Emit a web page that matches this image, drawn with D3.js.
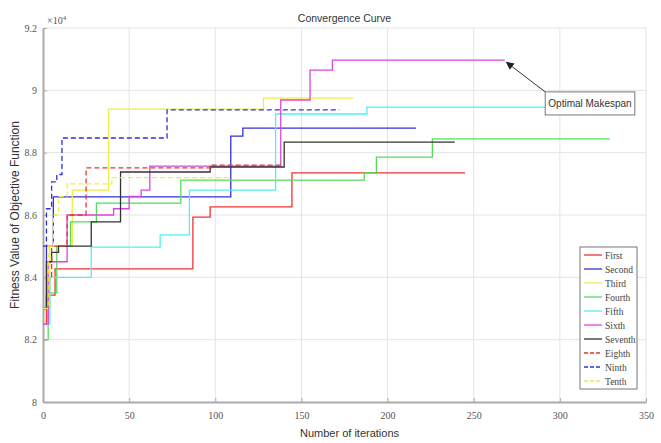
<!DOCTYPE html>
<html>
<head>
<meta charset="utf-8">
<script src="https://cdn.jsdelivr.net/npm/d3@7"></script>
<style>
  body { margin: 0; background: #fff; }
  .tick text { font-family: "Liberation Serif", "Times New Roman", serif; font-size: 10px; fill: #555; }
  .grid line { stroke: #e4e4e4; }
  .axis path, .axis line { stroke: #aaa; }
</style>
</head>
<body>
<svg id="chart"></svg>
<script>
// values in units of 10^4, iterations on x; last point marks where the run ends
const seriesNames = ['First', 'Second', 'Third', 'Fourth', 'Fifth', 'Sixth', 'Seventh', 'Eighth', 'Ninth', 'Tenth'];

const first = [[0, 8.25], [2, 8.343], [7, 8.427], [87, 8.593], [97, 8.626], [144.5, 8.735], [245, 8.735]];
const second = [[0, 8.3], [2, 8.5], [6, 8.658], [109, 8.853], [116, 8.879], [216.5, 8.879]];
const third = [[0, 8.3], [4, 8.5], [17, 8.68], [38, 8.94], [128, 8.975], [180, 8.975]];
const fourth = [[0, 8.2], [3, 8.35], [8, 8.5], [16, 8.578], [31, 8.638], [80, 8.712], [186.5, 8.735], [193.5, 8.786], [226, 8.844], [329, 8.844]];
const fifth = [[0, 8.25], [4, 8.4], [28, 8.497], [68, 8.536], [85, 8.68], [135, 8.924], [188, 8.946], [325, 8.946]];
const sixth = [[0, 8.25], [3, 8.45], [14, 8.6], [41, 8.62], [50, 8.66], [57, 8.68], [62, 8.757], [138, 8.969], [155, 9.065], [168, 9.097], [268, 9.097]];
const seventh = [[0, 8.3], [2, 8.45], [5, 8.48], [9, 8.5], [28, 8.578], [45, 8.738], [97, 8.754], [140, 8.834], [239, 8.834]];
const eighth = [[0, 8.3], [3, 8.4], [5, 8.5], [14, 8.6], [25, 8.751], [97.6, 8.76], [138, 8.76]];
const ninth = [[0, 8.5], [2, 8.62], [5, 8.706], [8, 8.73], [11, 8.847], [72, 8.937], [172, 8.937]];
const tenth = [[0, 8.3], [3, 8.5], [6, 8.6], [9, 8.66], [14, 8.7], [40, 8.72], [110, 8.72]];

const allSeries = [first, second, third, fourth, fifth, sixth, seventh, eighth, ninth, tenth];
const colors = ['#ee3333', '#3030dd', '#eeee44', '#55dd55', '#55eeee', '#dd44dd', '#333333', '#ee3333', '#3030dd', '#eeee44'];
const dashes = [null, null, null, null, null, null, null, '5,3', '5,3', '5,3'];

const xTicks = [0, 50, 100, 150, 200, 250, 300, 350];
const yTicks = [8, 8.2, 8.4, 8.6, 8.8, 9, 9.2];

const width = 661, height = 443;
const margin = { top: 28, right: 15, bottom: 41, left: 43 };
const w = width - margin.left - margin.right;
const h = height - margin.top - margin.bottom;

const svg = d3.select('#chart').attr('width', width).attr('height', height);
const chart = svg.append('g').attr('transform', `translate(${margin.left},${margin.top})`);

const xScale = d3.scaleLinear().domain([0, 350]).range([0, w]);
const yScale = d3.scaleLinear().domain([8, 9.2]).range([h, 0]);

// grid
chart.append('g').attr('class', 'grid')
  .selectAll('line.v').data(xTicks.slice(1)).join('line')
  .attr('x1', d => xScale(d)).attr('x2', d => xScale(d))
  .attr('y1', 0).attr('y2', h);
chart.append('g').attr('class', 'grid')
  .selectAll('line.h').data(yTicks.slice(1)).join('line')
  .attr('x1', 0).attr('x2', w)
  .attr('y1', d => yScale(d)).attr('y2', d => yScale(d));

// axes
const xAxis = d3.axisBottom(xScale).tickValues(xTicks).tickSize(-4).tickPadding(10).tickSizeOuter(0);
const yAxis = d3.axisLeft(yScale).tickValues(yTicks).tickSize(-4).tickPadding(6).tickSizeOuter(0)
  .tickFormat(d => d3.format('~g')(d));

chart.append('g').attr('class', 'axis x-axis')
  .attr('transform', `translate(0,${h})`).call(xAxis)
  .select('.domain').attr('stroke-width', 2);
chart.append('g').attr('class', 'axis y-axis').call(yAxis)
  .select('.domain').attr('stroke-width', 2);

// exponent label
chart.append('text')
  .attr('x', 4).attr('y', -4)
  .style('font-family', '"Liberation Serif", serif').style('font-size', '10px').attr('fill', '#555')
  .text('×10')
  .append('tspan').attr('dy', -4).style('font-size', '7px').text('4');

// lines
const line = d3.line()
  .x(d => xScale(d[0]))
  .y(d => yScale(d[1]))
  .curve(d3.curveStepAfter);

allSeries.forEach((s, i) => {
  chart.append('path')
    .datum(s)
    .attr('d', line)
    .attr('fill', 'none')
    .attr('stroke', colors[i])
    .attr('stroke-width', 1.3)
    .attr('stroke-dasharray', dashes[i]);
});

// annotation
const boxX = xScale(291.5), boxY = yScale(8.995);
const boxW = xScale(343.5) - boxX, boxH = yScale(8.921) - boxY;
svg.append('defs').append('marker')
  .attr('id', 'arrow').attr('viewBox', '0 0 10 10')
  .attr('refX', 9).attr('refY', 5)
  .attr('markerWidth', 8).attr('markerHeight', 8)
  .attr('orient', 'auto-start-reverse')
  .append('path').attr('d', 'M0,0 L10,5 L0,10 z').attr('fill', '#222');
chart.append('line')
  .attr('x1', boxX).attr('y1', boxY)
  .attr('x2', xScale(269)).attr('y2', yScale(9.09))
  .attr('stroke', '#333').attr('stroke-width', 1)
  .attr('marker-end', 'url(#arrow)');
chart.append('rect')
  .attr('x', boxX).attr('y', boxY).attr('width', boxW).attr('height', boxH)
  .attr('fill', '#fff').attr('stroke', '#777').attr('stroke-width', 1);
chart.append('text')
  .attr('x', boxX + boxW / 2).attr('y', boxY + boxH / 2 + 3.5)
  .attr('text-anchor', 'middle')
  .style('font-family', '"Liberation Sans", Arial, sans-serif').style('font-size', '10px').attr('fill', '#333')
  .text('Optimal Makespan');

// legend
const lgX = 580 - margin.left, lgY = 247 - margin.top;
const legend = chart.append('g').attr('transform', `translate(${lgX},${lgY})`);
legend.append('rect')
  .attr('width', 57).attr('height', 142)
  .attr('fill', '#fff').attr('stroke', '#777').attr('stroke-width', 1);
seriesNames.forEach((name, i) => {
  const y = 8 + i * 14;
  legend.append('line')
    .attr('x1', 4).attr('x2', 22).attr('y1', y).attr('y2', y)
    .attr('stroke', colors[i]).attr('stroke-width', 1.3)
    .attr('stroke-dasharray', dashes[i] ? '4,2' : null);
  legend.append('text')
    .attr('x', 25).attr('y', y + 3.5)
    .style('font-family', '"Liberation Serif", serif').style('font-size', '9.5px').attr('fill', '#444')
    .text(name);
});

// title and axis labels
svg.append('text')
  .attr('x', margin.left + w / 2).attr('y', 22)
  .attr('text-anchor', 'middle')
  .style('font-family', '"Liberation Sans", Arial, sans-serif').style('font-size', '10.5px').attr('fill', '#333')
  .text('Convergence Curve');
svg.append('text')
  .attr('x', margin.left + w / 2 + 5).attr('y', 437)
  .attr('text-anchor', 'middle')
  .style('font-family', '"Liberation Sans", Arial, sans-serif').style('font-size', '11px').attr('fill', '#333')
  .text('Number of iterations');
svg.append('text')
  .attr('transform', `translate(19,${margin.top + h / 2}) rotate(-90)`)
  .attr('text-anchor', 'middle')
  .style('font-family', '"Liberation Sans", Arial, sans-serif').style('font-size', '12px').attr('fill', '#333')
  .text('Fitness Value of Objective Function');
</script>
</body>
</html>
